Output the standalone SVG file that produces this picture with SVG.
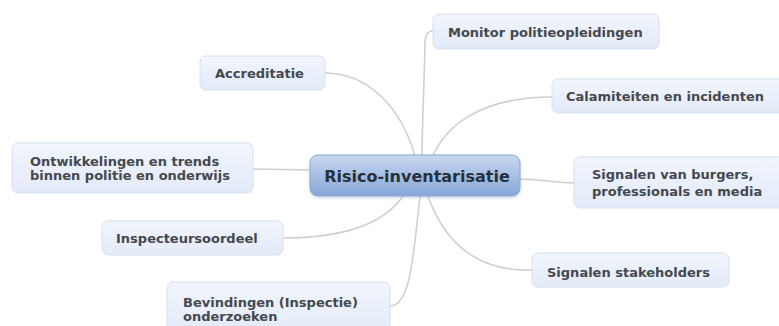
<svg xmlns="http://www.w3.org/2000/svg" width="779" height="326" viewBox="0 0 779 326">
<style>
.node rect{fill:url(#g);stroke:#d6e0ef;stroke-width:1}
.node text{font-family:"DejaVu Sans",Verdana,sans-serif;font-weight:bold;font-size:13px;fill:#45484d}
.conn path{fill:none;stroke:#cfcfcf;stroke-width:1.6}
#center text{font-family:"DejaVu Sans",Verdana,sans-serif;font-weight:bold;font-size:16px;fill:#26303d}
</style>
<defs>
<linearGradient id="g" x1="0" y1="0" x2="0" y2="1">
<stop offset="0" stop-color="#f1f5fd"/>
<stop offset="1" stop-color="#e3ebf8"/>
</linearGradient>
<linearGradient id="gc" x1="0" y1="0" x2="0" y2="1">
<stop offset="0" stop-color="#c8d8f0"/>
<stop offset="1" stop-color="#86a6d6"/>
</linearGradient>
<filter id="sh" x="-10%" y="-20%" width="120%" height="150%">
<feDropShadow dx="0" dy="1.5" stdDeviation="1.5" flood-color="#8090a8" flood-opacity="0.35"/>
</filter>
</defs>
<rect width="779" height="326" fill="#ffffff"/>
<g class="conn" id="connectors">
<path d="M325,73 C370,73 402,110 415,156"/>
<path d="M433,31 C427,31 425,35 425,45 C424,90 422,130 422,156"/>
<path d="M552,97 C482,97 446,125 433,156"/>
<path d="M520,179 C540,179 555,183 574,183"/>
<path d="M532,270 C480,272 445,245 428,196"/>
<path d="M390,306 C410,306 413,260 420,196"/>
<path d="M283,238 C340,238 383,225 403,196"/>
<path d="M253,169 L310,170"/>
</g>
<g id="center">
<rect x="310" y="155" width="210" height="41" rx="8" fill="url(#gc)" stroke="#8ea9d2" filter="url(#sh)"/>
<text x="417" y="181.5" text-anchor="middle">Risico-inventarisatie</text>
</g>
<g class="node" id="n-monitor">
<rect x="433" y="14" width="226" height="35" rx="6"/>
<text x="448" y="36.5">Monitor politieopleidingen</text>
</g>
<g class="node" id="n-calamiteiten">
<rect x="552" y="79" width="235" height="34" rx="6"/>
<text x="566" y="100.5">Calamiteiten en incidenten</text>
</g>
<g class="node" id="n-burgers">
<rect x="574" y="157" width="215" height="51" rx="6"/>
<text x="592" y="178.5">Signalen van burgers,</text>
<text x="592" y="195.5">professionals en media</text>
</g>
<g class="node" id="n-stakeholders">
<rect x="532" y="253" width="197" height="34" rx="6"/>
<text x="547" y="276.5">Signalen stakeholders</text>
</g>
<g class="node" id="n-accreditatie">
<rect x="200" y="56" width="125" height="34" rx="6"/>
<text x="215" y="77.5">Accreditatie</text>
</g>
<g class="node" id="n-ontwikkelingen">
<rect x="12" y="143" width="241" height="50" rx="6"/>
<text x="30" y="165.5">Ontwikkelingen en trends</text>
<text x="30" y="180">binnen politie en onderwijs</text>
</g>
<g class="node" id="n-inspecteursoordeel">
<rect x="102" y="221" width="181" height="34" rx="6"/>
<text x="116" y="242.5">Inspecteursoordeel</text>
</g>
<g class="node" id="n-bevindingen">
<rect x="167" y="282" width="223" height="52" rx="6"/>
<text x="183" y="306.5">Bevindingen (Inspectie)</text>
<text x="183" y="320.5">onderzoeken</text>
</g>
</svg>
